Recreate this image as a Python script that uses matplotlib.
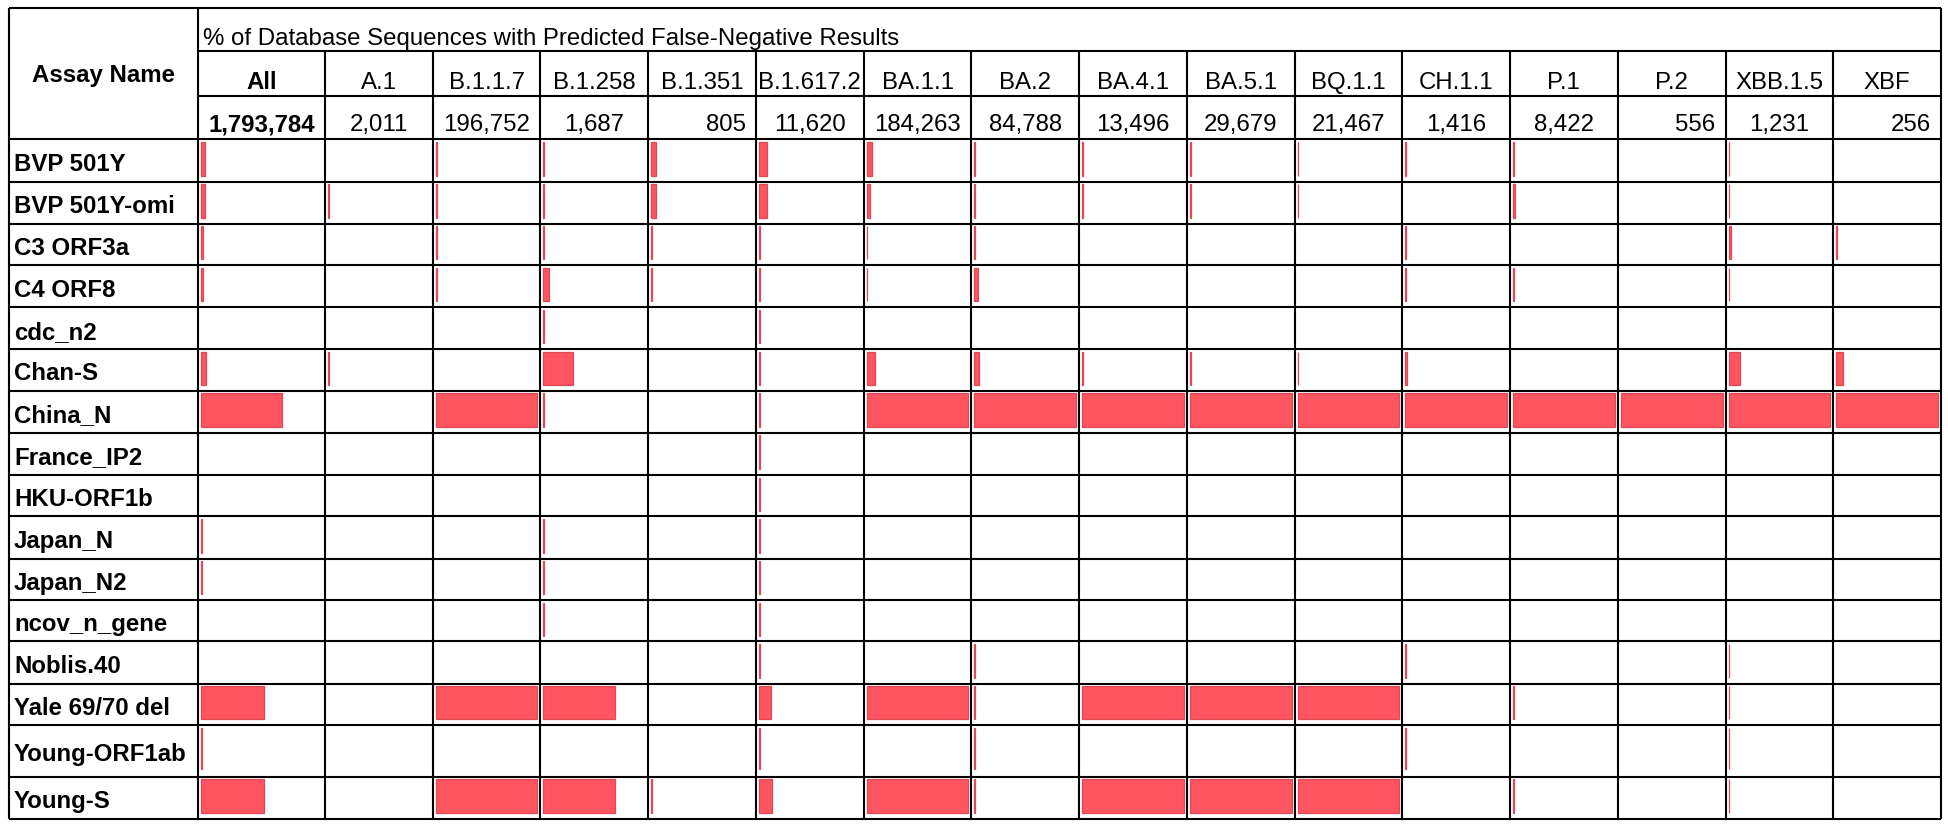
import numpy as np
import matplotlib
matplotlib.use("Agg")
import matplotlib.pyplot as plt

# Lineage columns and number of database sequences per lineage
lineages = ["All", "A.1", "B.1.1.7", "B.1.258", "B.1.351", "B.1.617.2", "BA.1.1", "BA.2",
            "BA.4.1", "BA.5.1", "BQ.1.1", "CH.1.1", "P.1", "P.2", "XBB.1.5", "XBF"]
seq_counts = [1793784, 2011, 196752, 1687, 805, 11620, 184263, 84788,
              13496, 29679, 21467, 1416, 8422, 556, 1231, 256]

assays = ["BVP 501Y", "BVP 501Y-omi", "C3 ORF3a", "C4 ORF8", "cdc_n2", "Chan-S", "China_N",
          "France_IP2", "HKU-ORF1b", "Japan_N", "Japan_N2", "ncov_n_gene", "Noblis.40",
          "Yale 69/70 del", "Young-ORF1ab", "Young-S"]

# % of sequences with predicted false-negative result (one list per assay, same order as lineages)
pct_false_neg = [
    [3.0, 0, 0.8, 0.8, 4.5, 8.0, 5.0, 0.8, 0.8, 0.8, 0.8, 0.8, 0.8, 0, 0.8, 0],
    [3.0, 0.8, 0.8, 0.8, 4.5, 8.0, 3.5, 0.8, 0.8, 0.8, 0.8, 0, 2.0, 0, 0.8, 0],
    [1.5, 0, 0.8, 0.8, 0.8, 0.8, 0.8, 0.8, 0, 0, 0, 0.8, 0, 0, 2.5, 0.8],
    [1.5, 0, 0.8, 5.0, 0.8, 0.8, 0.8, 3.5, 0, 0, 0, 0.8, 0.8, 0, 0.8, 0],
    [0, 0, 0, 0.8, 0, 0.8, 0, 0, 0, 0, 0, 0, 0, 0, 0, 0],
    [4.0, 0.8, 0, 29.0, 0, 0.8, 8.0, 5.0, 0.8, 1.5, 0.8, 2.0, 0, 0, 11.0, 7.0],
    [67.0, 0, 100, 0.8, 0, 0.8, 100, 100, 100, 100, 100, 100, 100, 100, 100, 100],
    [0, 0, 0, 0, 0, 0.8, 0, 0, 0, 0, 0, 0, 0, 0, 0, 0],
    [0, 0, 0, 0, 0, 0.8, 0, 0, 0, 0, 0, 0, 0, 0, 0, 0],
    [0.8, 0, 0, 0.8, 0, 0.8, 0, 0, 0, 0, 0, 0, 0, 0, 0, 0],
    [0.8, 0, 0, 0.8, 0, 0.8, 0, 0, 0, 0, 0, 0, 0, 0, 0, 0],
    [0, 0, 0, 0.8, 0, 0.8, 0, 0, 0, 0, 0, 0, 0, 0, 0, 0],
    [0, 0, 0, 0, 0, 0.8, 0, 0.8, 0, 0, 0, 0.8, 0, 0, 0.8, 0],
    [52.0, 0, 100, 70.0, 0, 12.0, 100, 0.8, 100, 100, 100, 0, 0.8, 0, 0.8, 0],
    [0.8, 0, 0, 0, 0, 0.8, 0, 0.8, 0, 0, 0, 0.8, 0, 0, 0.8, 0],
    [52.0, 0, 100, 70.0, 0.8, 13.0, 100, 0.8, 100, 100, 100, 0, 0.8, 0, 0.8, 0],
]

title = "% of Database Sequences with Predicted False-Negative Results"

plt.rcParams['font.family'] = ['Liberation Sans', 'DejaVu Sans']
FS = 17.3
BAR_COLOR = "#ff5560"

# Table geometry in pixels
left, label_right, right = 9, 198, 1941
top, title_bottom, head_bottom, count_bottom = 9, 52, 97, 140
col_edges = np.concatenate([[label_right], np.linspace(325, right, len(lineages))])
row_edges = [140, 182.7, 225, 266, 308.3, 350, 391.7, 433.7, 476.3, 517.3, 559.7,
             601.3, 642.3, 684.7, 725.7, 777.7, 820]

fig = plt.figure(figsize=(19.49, 8.29), dpi=100)
ax = fig.add_axes([0, 0, 1, 1])
ax.set_xlim(0, 1949)
ax.set_ylim(829, 0)
ax.axis('off')

# Bars, each cell is its own 0-100 % scale
pad = 3
for i, row in enumerate(pct_false_neg):
    y0, y1 = row_edges[i], row_edges[i + 1]
    h = y1 - y0
    for j, val in enumerate(row):
        if val <= 0:
            continue
        x0 = col_edges[j] + pad
        cell_w = col_edges[j + 1] - col_edges[j] - 2 * pad
        ax.barh(y0 + 0.06 * h + 0.4 * h, val / 100 * cell_w, left=x0, height=0.8 * h,
                color=BAR_COLOR, edgecolor="#e04a58", linewidth=0.9, zorder=2)

# Grid lines
lw = 1.5
ax.hlines([top, count_bottom] + row_edges[1:], left, right, color="black", lw=lw, zorder=3)
ax.hlines([title_bottom, head_bottom], label_right, right, color="black", lw=lw, zorder=3)
ax.vlines([left, label_right, right], top, row_edges[-1], color="black", lw=lw, zorder=3)
ax.vlines(col_edges[1:-1], title_bottom, row_edges[-1], color="black", lw=lw, zorder=3)

# Header texts
ax.text((left + label_right) / 2, 75, "Assay Name", ha='center', va='center',
        fontsize=FS, fontweight='bold')
ax.text(label_right + 5, 45, title, ha='left', va='baseline', fontsize=FS)

for j, (name, n) in enumerate(zip(lineages, seq_counts)):
    cx = (col_edges[j] + col_edges[j + 1]) / 2
    weight = 'bold' if name == "All" else 'normal'
    ax.text(cx, 89, name, ha='center', va='baseline', fontsize=FS, fontweight=weight)
    if n < 1000:
        ax.text(col_edges[j + 1] - 10, 131, f"{n:,}", ha='right', va='baseline',
                fontsize=FS, fontweight=weight)
    else:
        ax.text(cx, 131, f"{n:,}", ha='center', va='baseline', fontsize=FS, fontweight=weight)

# Assay labels
for i, name in enumerate(assays):
    cy = (row_edges[i] + row_edges[i + 1]) / 2
    ax.text(14, cy + 9.5, name, ha='left', va='baseline', fontsize=FS, fontweight='bold')

fig.savefig("out.png", dpi=100, facecolor="white")
